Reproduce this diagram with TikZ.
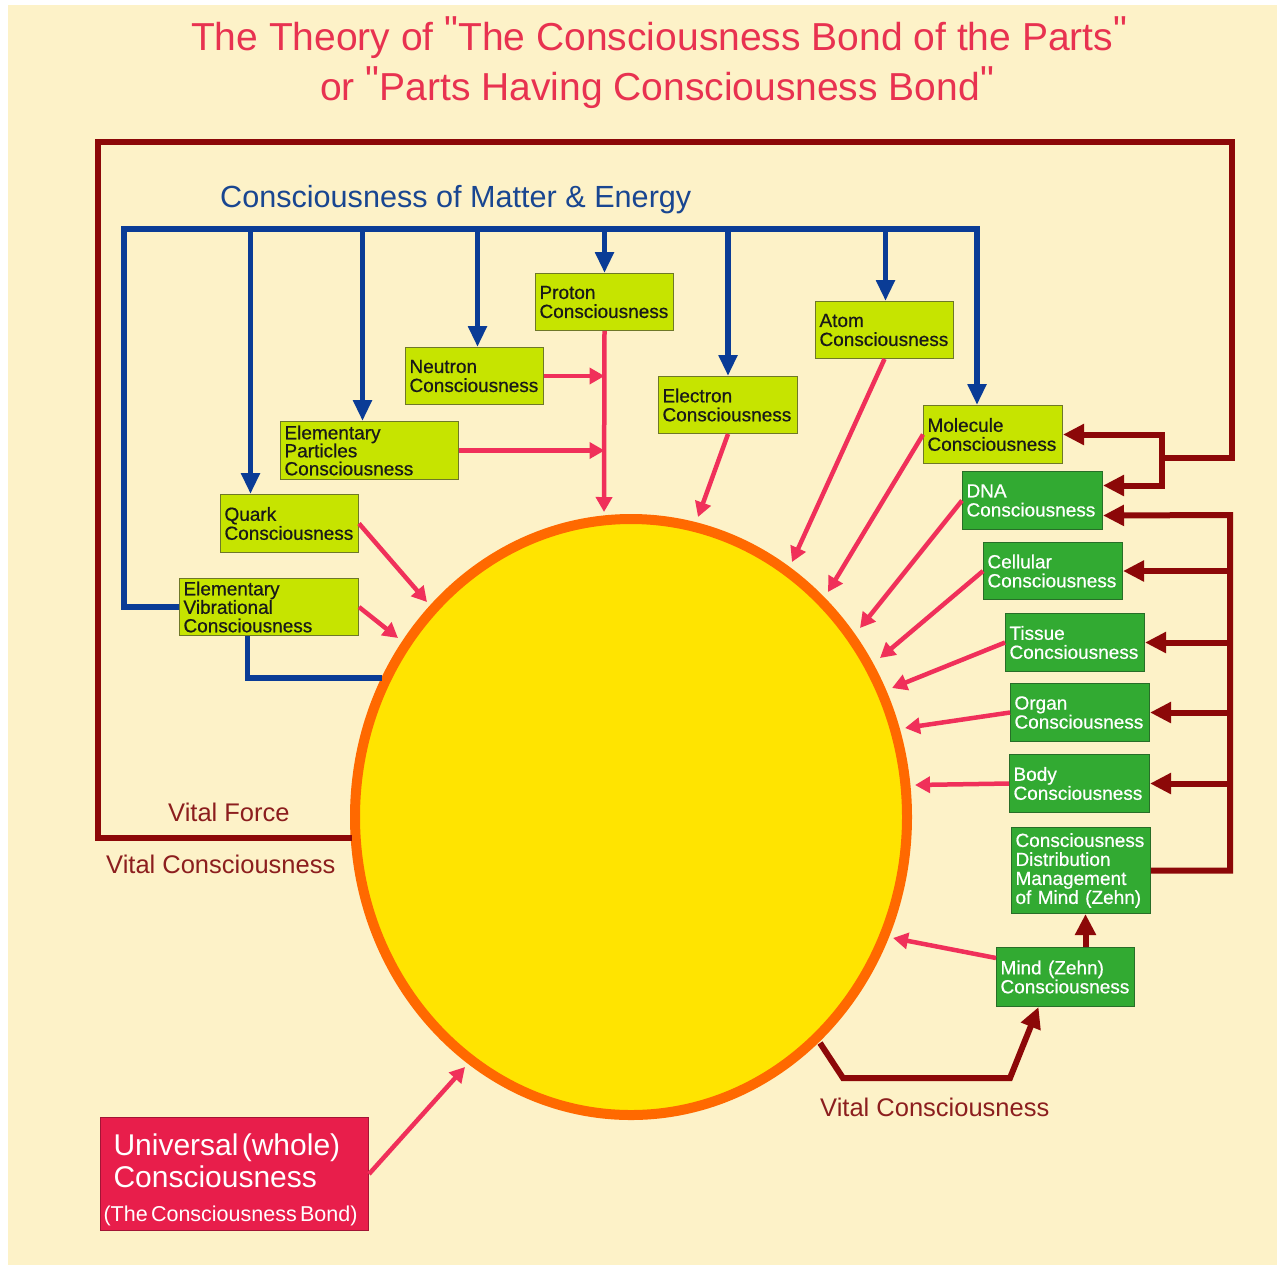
\documentclass[tikz,border=0pt]{standalone}
\usepackage{fontspec}
\setmainfont{Liberation Sans}
\newfontfamily\qfont{Liberation Sans}
\newfontfamily\boxfont{Liberation Sans}[FakeBold=0.6]
\usetikzlibrary{arrows.meta,shapes.geometric,calc}
\definecolor{cream}{RGB}{253,242,200}
\definecolor{titlered}{RGB}{232,50,80}
\definecolor{vred}{RGB}{140,8,8}
\definecolor{vtext}{RGB}{140,30,30}
\definecolor{bblue}{RGB}{10,60,150}
\definecolor{lblue}{RGB}{25,70,145}
\definecolor{ygreen}{RGB}{198,228,0}
\definecolor{yborder}{RGB}{110,120,40}
\definecolor{dgreen}{RGB}{50,170,50}
\definecolor{gborder}{RGB}{40,110,40}
\definecolor{pinkc}{RGB}{240,48,90}
\definecolor{sunfill}{RGB}{255,228,0}
\definecolor{sunline}{RGB}{255,105,0}
\definecolor{ucol}{RGB}{232,30,75}
\newcommand{\tq}{\raisebox{7pt}{\qfont"}}
\begin{document}
\begin{tikzpicture}[x=1pt,y=-1pt,
  ybox/.style={draw=yborder, line width=1pt, fill=ygreen, anchor=north west, align=left,
    inner xsep=4pt, inner ysep=0pt, font=\boxfont\fontsize{19}{19}\selectfont, text=black!90},
  gbox/.style={ybox, draw=gborder, fill=dgreen, text=white},
  pinkarrow/.style={draw=pinkc, line width=4.5pt, -{Triangle[length=15pt,width=16pt]}},
  bline/.style={draw=bblue, line width=5.5pt},
  barrow/.style={bline, -{Triangle[length=21pt,width=18pt]}},
  vline/.style={draw=vred, line width=6pt},
  varrow/.style={vline, -{Triangle[length=21pt,width=20pt]}},
  vlabel/.style={text=vtext, font=\fontsize{25.5}{25.5}\selectfont, anchor=base west, inner sep=0pt}
]
\useasboundingbox (0,0) rectangle (1284,1270);
\fill[white] (0,0) rectangle (1284,1270);
\fill[cream] (8,5) rectangle (1277,1265);

% title
\node[text=titlered, font=\fontsize{39}{39}\selectfont, anchor=base, inner sep=0pt] (title1) at (659,50)
  {The Theory of \tq The Consciousness Bond of the Parts\tq};
\node[text=titlered, font=\fontsize{39}{39}\selectfont, anchor=base, inner sep=0pt] (title2) at (657,100)
  {or \tq Parts Having Consciousness Bond\tq};

% sun
\node[ellipse, draw=sunline, line width=10pt, fill=sunfill, minimum width=552pt, minimum height=596pt, inner sep=0pt] (sun) at (631,817) {};

% boxes
\node[ybox, minimum width=138, minimum height=57, text width=130pt] (proton) at (535,273) {Proton\\Consciousness};
\node[ybox, minimum width=138, minimum height=57, text width=130pt] (neutron) at (405,347) {Neutron\\Consciousness};
\node[ybox, minimum width=138, minimum height=57, text width=130pt] (atom) at (815,301) {Atom\\Consciousness};
\node[ybox, minimum width=139, minimum height=57, text width=131pt] (electron) at (658,376) {Electron\\Consciousness};
\node[ybox, minimum width=139, minimum height=58, text width=131pt] (molecule) at (923,405) {Molecule\\Consciousness};
\node[ybox, minimum width=178, minimum height=58, text width=170pt, font=\boxfont\fontsize{19}{18}\selectfont] (epc) at (280,421) {Elementary\\Particles\\Consciousness};
\node[ybox, minimum width=138, minimum height=58, text width=130pt] (quark) at (220,494) {Quark\\Consciousness};
\node[ybox, minimum width=179, minimum height=57, text width=171pt, font=\boxfont\fontsize{19}{18.5}\selectfont] (evc) at (179,578) {Elementary\\Vibrational\\Consciousness};

\node[gbox, minimum width=140, minimum height=58, text width=132pt] (dna) at (962,471) {DNA\\Consciousness};
\node[gbox, minimum width=139, minimum height=57, text width=131pt] (cell) at (983,542) {Cellular\\Consciousness};
\node[gbox, minimum width=139, minimum height=58, text width=131pt] (tissue) at (1005,613) {Tissue\\Concsiousness};
\node[gbox, minimum width=139, minimum height=58, text width=131pt] (organ) at (1010,683) {Organ\\Consciousness};
\node[gbox, minimum width=140, minimum height=58, text width=132pt] (body) at (1009,754) {Body\\Consciousness};
\node[gbox, minimum width=139, minimum height=86, text width=131pt] (cdm) at (1011,827) {Consciousness\\Distribution\\Management\\of Mind (Zehn)};
\node[gbox, minimum width=138, minimum height=59, text width=130pt] (mind) at (996,947) {Mind (Zehn)\\Consciousness};

\node[draw=ucol!70!black, line width=1pt, fill=ucol, text=white, anchor=north west, align=left,
  minimum width=268, minimum height=113, text width=242pt, inner xsep=13pt, inner ysep=0pt] (univ) at (100,1117)
  {\parindent=0pt\fontsize{30}{32}\selectfont\rule{0pt}{34pt}Universal (whole)\\Consciousness\par
   \fontsize{21.5}{34}\selectfont\hspace*{-10pt}\makebox[0pt][l]{(The Consciousness Bond)}\par};

% labels
\node[text=lblue, font=\fontsize{30.6}{30.6}\selectfont, anchor=base west, inner sep=0pt] (lmatter) at (220,207) {Consciousness of Matter \& Energy};
\node[vlabel] (lforce) at (168,821) {Vital Force};
\node[vlabel] (lvital) at (106,873) {Vital Consciousness};
\node[vlabel] (lvital2) at (820,1116) {Vital Consciousness};

% coordinates
\coordinate (bTL) at (124,229);
\coordinate (bTR) at (977,229);
\coordinate (dQ) at ([xshift=-39pt]quark.north);
\coordinate (dE) at ([xshift=-7pt]epc.north);
\coordinate (dN) at ([xshift=3pt]neutron.north);
\coordinate (dA) at ([xshift=1pt]atom.north);
\coordinate (eB) at ([xshift=-21.5pt]evc.south);
\coordinate (sunEVC) at (382,678);
\coordinate (sunL) at (352,838);
\coordinate (fBL) at (98,838);
\coordinate (fTR) at (1232,142);
\coordinate (fJ) at (1162,458);
\coordinate (dnaUp) at ([yshift=15pt]dna.east);
\coordinate (dnaLow) at ([yshift=-15pt]dna.east);
\coordinate (rb) at (1230,515);
\coordinate (vS) at (820,1043);
\coordinate (vA) at (843,1078);
\coordinate (vB) at (1010,1078);
\coordinate (mB) at ([xshift=-27pt]mind.south);
\coordinate (mT) at ([xshift=20pt]mind.north);
\coordinate (mindL) at ($(mind.north west)+(0,11)$);
\coordinate (tProton) at (604,512);
\coordinate (tElectron) at (698,517);
\coordinate (tAtom) at (792,562);
\coordinate (tMolecule) at (828,592);
\coordinate (tDNA) at (860,628);
\coordinate (tCell) at (880,658);
\coordinate (tTissue) at (892,688);
\coordinate (tOrgan) at (905,728);
\coordinate (tBody) at (915,785);
\coordinate (tMind) at (893,938);
\coordinate (tQuark) at (427,602);
\coordinate (tEVC) at (398,638);
\coordinate (tUniv) at (465,1067);

% blue bus
\draw[barrow] (evc.west) -| (bTL) -- (bTR) -- (bTR |- molecule.north);
\draw[barrow] (dQ |- bTL) -- (dQ);
\draw[barrow] (dE |- bTL) -- (dE);
\draw[barrow] (dN |- bTL) -- (dN);
\draw[barrow] (proton.north |- bTL) -- (proton.north);
\draw[barrow] (electron.north |- bTL) -- (electron.north);
\draw[barrow] (dA |- bTL) -- (dA);
\draw[bline] (eB) |- (sunEVC);

% red frame
\draw[vline] (sunL) -- (fBL) |- (fTR) |- (fJ);
\draw[varrow] (fJ) -- (fJ |- molecule.east) -- (molecule.east);
\draw[varrow] (fJ) -- (fJ |- dnaUp) -- (dnaUp);
\draw[varrow] (cdm.east) -| (rb) -- (dnaLow);
\draw[varrow] (rb |- cell.east) -- (cell.east);
\draw[varrow] (rb |- tissue.east) -- (tissue.east);
\draw[varrow] (rb |- organ.east) -- (organ.east);
\draw[varrow] (rb |- body.east) -- (body.east);
\draw[varrow] (vS) -- (vA) -- (vB) -- (mB);
\draw[varrow] (mT) -- (mT |- cdm.south);

% pink arrows
\draw[pinkarrow] (neutron.east) -- (neutron.east -| proton.south);
\draw[pinkarrow] (epc.east) -- (epc.east -| proton.south);
\draw[pinkarrow] (proton.south) -- (tProton);
\draw[pinkarrow] (electron.south) -- (tElectron);
\draw[pinkarrow] (atom.south) -- (tAtom);
\draw[pinkarrow] (molecule.west) -- (tMolecule);
\draw[pinkarrow] (dna.west) -- (tDNA);
\draw[pinkarrow] (cell.west) -- (tCell);
\draw[pinkarrow] (tissue.west) -- (tTissue);
\draw[pinkarrow] (organ.west) -- (tOrgan);
\draw[pinkarrow] (body.west) -- (tBody);
\draw[pinkarrow] (mindL) -- (tMind);
\draw[pinkarrow] (quark.east) -- (tQuark);
\draw[pinkarrow] (evc.east) -- (tEVC);
\draw[pinkarrow] (univ.east) -- (tUniv);
\end{tikzpicture}
\end{document}
